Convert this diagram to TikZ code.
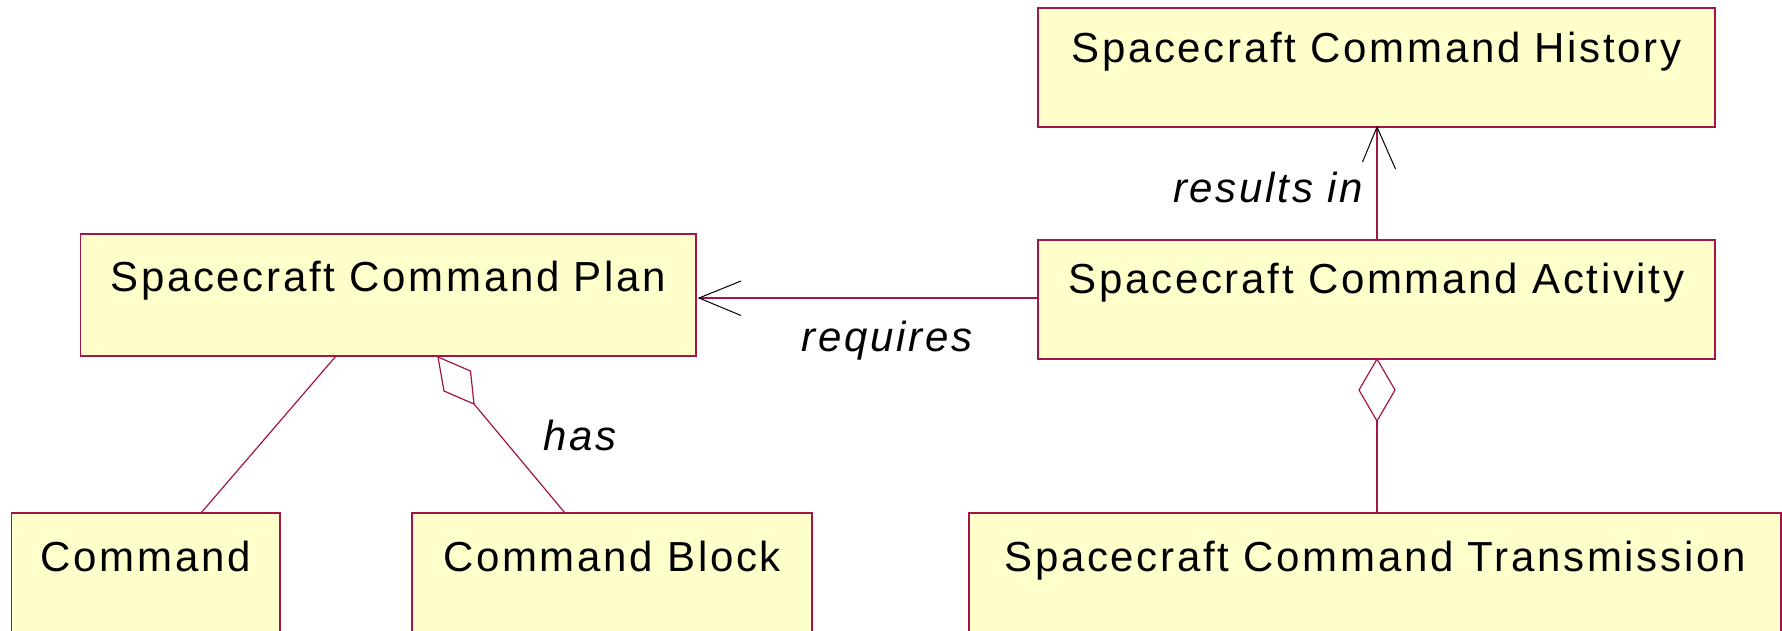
\documentclass[tikz,border=0pt]{standalone}
\usepackage{fontspec}
\setmainfont{Liberation Sans}
\definecolor{umlborder}{RGB}{165,20,70}
\definecolor{umlfill}{RGB}{255,255,204}
\begin{document}
\begin{tikzpicture}[x=1pt,y=-1pt,
  box/.style={draw=umlborder, fill=umlfill, line width=1.4pt, anchor=north west, inner sep=0pt, outer sep=0pt},
  title/.style={font=\fontsize{42}{50}\selectfont\addfontfeature{LetterSpace=6.4}, anchor=base, inner sep=0pt},
  rolelabel/.style={font=\fontsize{42}{50}\selectfont\itshape\addfontfeature{LetterSpace=6.4}, anchor=base, inner sep=0pt},
  conn/.style={draw=umlborder, line width=1.2pt},
  wing/.style={draw=black, line width=1pt},
  diam/.style={draw=umlborder, fill=white, line width=1.2pt, line join=miter}
]
\useasboundingbox (0,0) rectangle (1782,630);
\clip (0,0) rectangle (1782,630);

% boxes
\node[box, minimum width=677pt, minimum height=119pt] (hist) at (1038,8) {};
\node[box, minimum width=677pt, minimum height=119pt] (act) at (1038,240) {};
\node[box, minimum width=615.5pt, minimum height=122pt] (plan) at (80.5,234) {};
\node[box, minimum width=268.5pt, minimum height=200pt] (cmd) at (11.5,513) {};
\node[box, minimum width=400pt, minimum height=200pt] (block) at (412,513) {};
\node[box, minimum width=812pt, minimum height=200pt] (trans) at (969,513) {};

% titles
\node[title] (histT) at ([yshift=-54pt]hist.north) {Spacecraft Command History};
\node[title] (actT) at ([yshift=-53pt]act.north) {Spacecraft Command Activity};
\node[title] (planT) at ([yshift=-57pt]plan.north) {Spacecraft Command Plan};
\node[title] (cmdT) at ([yshift=-58pt]cmd.north) {Command};
\node[title] (blockT) at ([yshift=-58pt]block.north) {Command Block};
\node[title] (transT) at ([yshift=-58pt]trans.north) {Spacecraft Command Transmission};

% activity -> history (results in)
\draw[conn] ([xshift=0.5pt]act.north) -- ([xshift=0.5pt]hist.south);
\draw[wing] ([xshift=-14pt,yshift=-35pt]hist.south) -- ([xshift=0.5pt]hist.south) -- ([xshift=19pt,yshift=-42pt]hist.south);
\node[rolelabel] (resultsL) at (1268,202) {results in};

% activity -> plan (requires)
\coordinate (reqEnd) at ([xshift=3pt]act.west -| plan.east);
\draw[conn] ([yshift=1.5pt]act.west) -- ([yshift=1.5pt]reqEnd);
\draw[wing] ([xshift=42pt,yshift=18.5pt]reqEnd) -- ([yshift=1.5pt]reqEnd) -- ([xshift=42pt,yshift=-16pt]reqEnd);
\node[rolelabel] (reqL) at (887,351) {requires};

% plan -- command
\draw[conn] ([xshift=255.5pt]plan.south west) -- ([xshift=189.5pt]cmd.north west);

% plan <>-- command block (has)
\coordinate (pd) at ([xshift=357.5pt,yshift=-1pt]plan.south west);
\draw[diam] (pd) -- ++(32.5,14) -- ++(3.5,33) -- ++(-30,-13) -- cycle;
\draw[conn] ([xshift=36pt,yshift=-47pt]pd) -- ([xshift=153pt]block.north west);
\node[rolelabel] (hasL) at (580,450) {has};

% activity <>-- transmission
\coordinate (ad) at ([xshift=0.5pt]act.south);
\draw[diam] (ad) -- ++(-18,31) -- ++(18,31) -- ++(18,-31) -- cycle;
\draw[conn] ([yshift=-62pt]ad) -- (ad |- trans.north);
\end{tikzpicture}
\end{document}
